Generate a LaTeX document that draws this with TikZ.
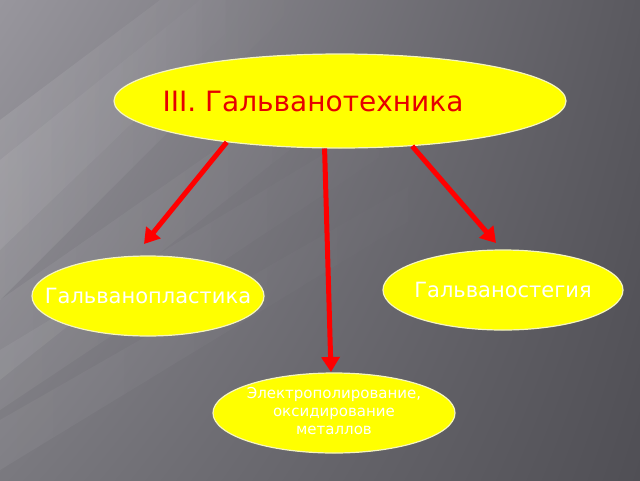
\documentclass[tikz,border=0pt]{standalone}
\usepackage{fontspec}
\setmainfont{DejaVu Sans}
\usetikzlibrary{arrows.meta,fadings,shadings,shapes.geometric}
\tikzfading[name=fadeR, left color=transparent!0, right color=transparent!100]
\definecolor{bgUL}{RGB}{152,150,157}
\definecolor{bgUR}{RGB}{90,89,95}
\definecolor{bgLL}{RGB}{122,121,127}
\definecolor{bgLR}{RGB}{80,79,85}
\definecolor{ellfill}{RGB}{255,255,0}
\definecolor{ellline}{RGB}{245,245,190}
\definecolor{arr}{RGB}{255,0,0}
\definecolor{titlered}{RGB}{230,0,0}
\tikzset{
  ell/.style={ellipse, fill=ellfill, draw=ellline, line width=1.2pt, inner sep=0pt},
  conn/.style={draw=arr, line width=5pt, -{Triangle[length=15pt,width=18pt]}},
  streak/.style={fill=white, path fading=fadeR},
}
\begin{document}
\begin{tikzpicture}[x=1pt,y=-1pt]
\useasboundingbox (0,0) rectangle (640,480);
% background
\shade[upper left=bgUL, upper right=bgUR, lower left=bgLL, lower right=bgLR] (0,0) rectangle (640,480);
\fill[streak, opacity=0.10] (0,120) -- (160,0) -- (300,0) -- (0,300) -- cycle;
\fill[streak, opacity=0.07] (0,160) -- (200,0) -- (260,0) -- (0,250) -- cycle;
\fill[streak, opacity=0.07] (0,300) -- (330,70) -- (390,70) -- (0,380) -- cycle;
\fill[streak, opacity=0.06] (0,350) -- (380,120) -- (420,130) -- (0,410) -- cycle;
\fill[streak, opacity=0.05] (0,420) -- (420,180) -- (460,190) -- (0,470) -- cycle;
% nodes
\node[ell, minimum width=452pt, minimum height=94pt, text=titlered, font=\fontsize{28}{32}\selectfont] (top) at (340,101) {\hspace*{-54pt}\makebox[0pt]{III. Гальванотехника}};
\node[ell, minimum width=232pt, minimum height=80pt, text=white, font=\fontsize{21}{25}\selectfont] (left) at (148,296) {\makebox[0pt]{Гальванопластика}};
\node[ell, minimum width=240pt, minimum height=80pt, text=white, font=\fontsize{21}{25}\selectfont] (right) at (503,290) {\makebox[0pt]{Гальваностегия}};
\node[ell, minimum width=242pt, minimum height=80pt, text=white, font=\fontsize{15}{18}\selectfont] (bot) at (334,413) {\makebox[0pt]{\begin{tabular}{@{}c@{}}Электрополирование,\\оксидирование\\металлов\end{tabular}}};
% connector ends
\coordinate (eL) at (144,244);
\coordinate (eM) at (331,372);
\coordinate (eR) at (496,243);
\draw[conn] (top.200) -- (eL);
\draw[conn] (top.252) -- (eM);
\draw[conn] (top.328) -- (eR);
\end{tikzpicture}
\end{document}
